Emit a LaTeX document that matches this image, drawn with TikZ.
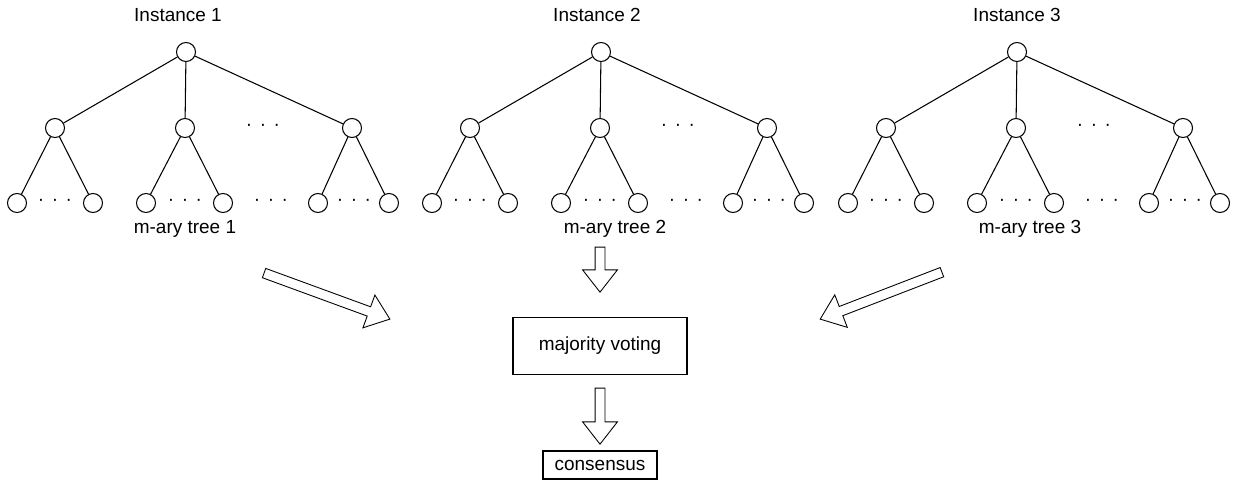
\documentclass[tikz,border=0pt]{standalone}
\usepackage{fontspec}
\setmainfont{Liberation Sans}
\usetikzlibrary{shapes.arrows}
\newcommand{\threedots}{·\hspace{4.3pt}·\hspace{4.3pt}·}

\begin{document}
\begin{tikzpicture}[x=0.02cm,y=-0.02cm,
  font=\fontsize{10.8}{13}\selectfont,
  vtx/.style={draw,circle,minimum size=0.38cm,inner sep=0pt,line width=0.6pt},
  edge/.style={line width=0.6pt},
  gap/.style={inner sep=0pt},
  fatarrow/.style={draw,single arrow,single arrow tip angle=76,minimum width=0.6cm,
    inner sep=0.09cm,line width=0.5pt},
  box/.style={draw,line width=0.6pt}]
  \useasboundingbox (0,0) rectangle (1243,483);

  % three trees
  \foreach \i/\dx/\ix/\tx in {1/0/178/185, 2/415/597/615, 3/831/1017/1030} {
    \node (inst\i) at (\ix,15) {Instance \i};
    \node (tree\i) at (\tx,229) {m-ary tree \i};
    \begin{scope}[shift={(\dx,0)}]
      \node[vtx] (r\i) at (186,52) {};
      \node[vtx] (m\i-1) at (55,128) {};
      \node[vtx] (m\i-2) at (185,128) {};
      \node[vtx] (m\i-3) at (352,128) {};
      \node[vtx] (l\i-1) at (17,203) {};
      \node[vtx] (l\i-2) at (93,203) {};
      \node[vtx] (l\i-3) at (146,203) {};
      \node[vtx] (l\i-4) at (223,203) {};
      \node[vtx] (l\i-5) at (318,203) {};
      \node[vtx] (l\i-6) at (389,203) {};
      \node[gap] (d\i-0) at (263,127) {\threedots};
      \node[gap] (d\i-1) at (55,202) {\threedots};
      \node[gap] (d\i-2) at (185,202) {\threedots};
      \node[gap] (d\i-3) at (271,202) {\threedots};
      \node[gap] (d\i-4) at (354,202) {\threedots};
      \draw[edge] (r\i) -- (m\i-1);
      \draw[edge] (r\i) -- (m\i-2);
      \draw[edge] (r\i) -- (m\i-3);
      \draw[edge] (m\i-1) -- (l\i-1);
      \draw[edge] (m\i-1) -- (l\i-2);
      \draw[edge] (m\i-2) -- (l\i-3);
      \draw[edge] (m\i-2) -- (l\i-4);
      \draw[edge] (m\i-3) -- (l\i-5);
      \draw[edge] (m\i-3) -- (l\i-6);
    \end{scope}
  }

  % voting
  \node[fatarrow,minimum height=2.68cm,rotate=-20.1] (arr1) at (324,295) {};
  \node[fatarrow,minimum height=0.9cm,rotate=-90] (arr2) at (600,266.5) {};
  \node[fatarrow,minimum height=2.61cm,rotate=201.1] (arr3) at (884,294.5) {};
  \node[box,minimum width=3.48cm,minimum height=1.14cm] (vote) at (600,346) {majority voting};
  \node[fatarrow,minimum height=1.12cm,rotate=-90] (arr4) at (600,413) {};
  \node[box,minimum width=2.28cm,minimum height=0.56cm] (cons) at (600,465) {consensus};
\end{tikzpicture}
\end{document}
